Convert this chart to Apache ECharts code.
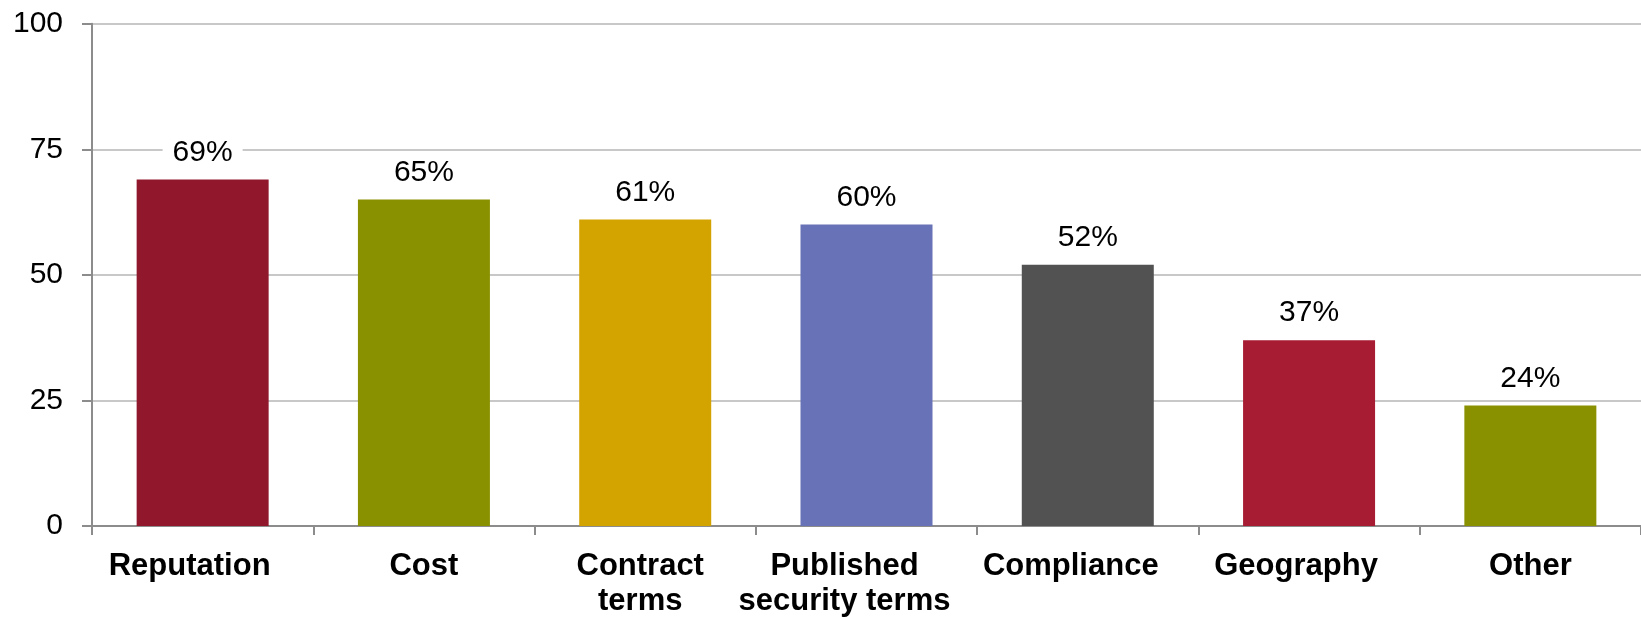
<!DOCTYPE html>
<html>
<head>
<meta charset="utf-8">
<script src="https://cdn.jsdelivr.net/npm/echarts@6/dist/echarts.min.js"></script>
<style>
  html, body { margin: 0; padding: 0; background: #ffffff; }
  #chart { width: 1641px; height: 619px; }
</style>
</head>
<body>
<div id="chart"></div>
<script>
// Factors considered when choosing a provider (% of respondents)
const categories = ['Reputation', 'Cost', 'Contract\nterms', 'Published\nsecurity terms', 'Compliance', 'Geography', 'Other'];
const values = [69, 65, 61, 60, 52, 37, 24];
const barColors = ['#91172D', '#8A9100', '#D3A300', '#6872B6', '#525252', '#A71B33', '#8A9100'];
const yTicks = { min: 0, max: 100, interval: 25 };

const FONT = '"Liberation Sans", Arial, sans-serif';

// Category labels sit slightly left of their bars; nudge each one (px)
const labelNudge = [13, 0, 5, 22, 17, 13, 0];

const chart = echarts.init(document.getElementById('chart'), null, { renderer: 'canvas' });

chart.setOption({
  animation: false,
  backgroundColor: '#ffffff',
  grid: { left: 92, right: -4, top: 23.7, bottom: 91.3, containLabel: false },
  xAxis: {
    type: 'category',
    data: categories.map((c, i) => ({
      value: c,
      textStyle: { padding: [0, labelNudge[i] * 2, 0, 0] }
    })),
    axisLine: { show: true, lineStyle: { color: '#8C8C8C', width: 2 } },
    axisTick: { show: true, alignWithLabel: false, length: 9, lineStyle: { color: '#8C8C8C', width: 2 } },
    axisLabel: {
      interval: 0,
      margin: 23,
      color: '#000000',
      fontFamily: FONT,
      fontWeight: 'bold',
      fontSize: 31,
      lineHeight: 35
    },
    splitLine: { show: false }
  },
  yAxis: {
    type: 'value',
    min: yTicks.min,
    max: yTicks.max,
    interval: yTicks.interval,
    axisLine: { show: true, lineStyle: { color: '#8C8C8C', width: 2 } },
    axisTick: { show: true, length: 10, lineStyle: { color: '#8C8C8C', width: 2 } },
    axisLabel: {
      margin: 29,
      color: '#000000',
      fontFamily: FONT,
      fontSize: 30
    },
    splitLine: { show: true, lineStyle: { color: '#C8C8C8', width: 2 } }
  },
  series: [{
    type: 'bar',
    data: values.map((v, i) => ({ value: v, itemStyle: { color: barColors[i] } })),
    barWidth: 132,
    label: {
      show: true,
      position: 'top',
      distance: 12,
      formatter: '{c}%',
      color: '#000000',
      fontFamily: FONT,
      fontSize: 30,
      backgroundColor: '#ffffff',
      padding: [0, 10]
    }
  }]
});
</script>
</body>
</html>
